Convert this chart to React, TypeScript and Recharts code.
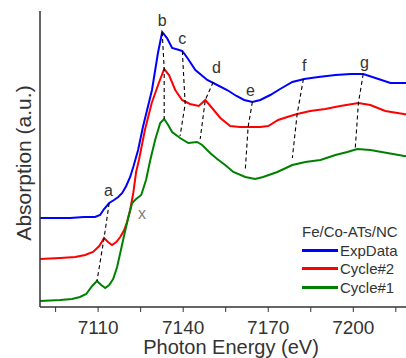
import React from 'react';
import {
  ComposedChart,
  Line,
  Scatter,
  XAxis,
  YAxis,
  Legend,
} from 'recharts';

// Fe K-edge XANES spectra, [energy (eV), normalised absorption + offset]
const expData: [number, number][] = [
  [7089.5, 0.89], [7100.1, 0.89], [7105.0, 0.9], [7108.9, 0.9], [7110.7, 0.92],
  [7112.1, 0.98], [7113.9, 1.04], [7115.6, 1.07], [7117.1, 1.1], [7118.5, 1.14],
  [7119.9, 1.21], [7121.3, 1.3], [7122.4, 1.4], [7124.1, 1.57], [7125.8, 1.8],
  [7129.0, 2.17], [7131.1, 2.54], [7132.6, 2.75], [7134.3, 2.69], [7136.1, 2.59],
  [7138.6, 2.57], [7139.7, 2.56], [7141.5, 2.49], [7144.3, 2.37], [7148.5, 2.27],
  [7152.0, 2.22], [7155.5, 2.17], [7158.8, 2.11], [7161.5, 2.07], [7164.4, 2.05],
  [7167.2, 2.07], [7170.7, 2.12], [7174.2, 2.18], [7178.5, 2.25], [7182.7, 2.28],
  [7187.7, 2.3], [7193.7, 2.32], [7199.0, 2.33], [7203.5, 2.33], [7207.8, 2.29],
  [7213.1, 2.24], [7220.0, 2.24],
];

const cycle2: [number, number][] = [
  [7089.5, 0.48], [7096.6, 0.49], [7101.9, 0.5], [7105.4, 0.52], [7108.2, 0.55],
  [7110.4, 0.61], [7112.1, 0.69], [7113.5, 0.65], [7114.9, 0.62], [7116.4, 0.65],
  [7117.8, 0.7], [7119.2, 0.77], [7120.2, 0.85], [7121.3, 0.97], [7122.4, 1.14],
  [7123.4, 1.35], [7124.4, 1.47], [7126.5, 1.77], [7128.9, 2.04], [7131.4, 2.24],
  [7133.3, 2.38], [7135.0, 2.32], [7137.2, 2.17], [7139.6, 2.07], [7142.4, 2.03],
  [7145.5, 2.01], [7147.8, 2.07], [7150.2, 1.99], [7153.1, 1.89], [7156.6, 1.81],
  [7160.0, 1.8], [7164.0, 1.8], [7167.2, 1.8], [7170.0, 1.81], [7173.5, 1.87],
  [7176.7, 1.9], [7180.2, 1.93], [7184.8, 1.96], [7190.1, 1.98], [7195.4, 2.01],
  [7201.8, 2.04], [7206.0, 2.02], [7211.3, 1.96], [7220.0, 1.92],
];

const cycle1: [number, number][] = [
  [7089.5, 0.06], [7096.6, 0.07], [7100.8, 0.08], [7103.6, 0.1], [7105.8, 0.13],
  [7107.9, 0.21], [7109.6, 0.26], [7111.1, 0.22], [7112.5, 0.19], [7113.9, 0.22],
  [7115.3, 0.28], [7116.7, 0.4], [7117.8, 0.54], [7119.2, 0.72], [7120.6, 0.89],
  [7122.0, 1.04], [7123.4, 1.08], [7125.2, 1.12], [7126.9, 1.27], [7128.4, 1.47],
  [7130.1, 1.67], [7131.9, 1.84], [7133.3, 1.88], [7134.7, 1.82], [7136.1, 1.75],
  [7138.9, 1.69], [7141.8, 1.64], [7144.9, 1.65], [7146.7, 1.62], [7149.5, 1.54],
  [7152.0, 1.48], [7154.8, 1.42], [7157.7, 1.35], [7161.9, 1.3], [7165.4, 1.28],
  [7168.2, 1.3], [7173.2, 1.35], [7178.5, 1.42], [7183.1, 1.45], [7188.4, 1.47],
  [7193.7, 1.52], [7197.9, 1.55], [7201.4, 1.58], [7206.0, 1.57], [7212.0, 1.54],
  [7220.0, 1.5],
];

// feature markers a-g: point on ExpData, Cycle#2, Cycle#1
const featureNames = ['a', 'b', 'c', 'd', 'e', 'f', 'g'];
const featureTraces: [number, number][][] = [
  [[7113.9, 1.04], [7112.1, 0.69], [7109.6, 0.26]],
  [[7132.6, 2.75], [7133.3, 2.38], [7133.3, 1.88]],
  [[7139.7, 2.56], [7140.7, 2.03], [7138.9, 1.71]],
  [[7150.6, 2.25], [7147.8, 2.07], [7146.0, 1.68]],
  [[7164.4, 2.05], [7162.9, 1.8], [7161.9, 1.37]],
  [[7182.4, 2.28], [7180.2, 1.93], [7178.5, 1.49]],
  [[7203.5, 2.33], [7201.8, 2.04], [7200.7, 1.59]],
];
const featureLabelPos: [number, number][] = [
  [7113.6, 1.17], [7132.6, 2.87], [7139.7, 2.69], [7151.7, 2.4],
  [7163.7, 2.17], [7182.7, 2.42], [7203.9, 2.45],
];
// shoulder on the Cycle#1 edge
const shoulderLabel = { name: 'x', e: 7125.5, v: 0.94 };

const energyTicks = [7095, 7110, 7125, 7140, 7155, 7170, 7185, 7200, 7215];
const majorTicks = [7110, 7140, 7170, 7200];

const series = [
  { name: 'ExpData', color: '#0000ff', points: expData },
  { name: 'Cycle#2', color: '#ff0000', points: cycle2 },
  { name: 'Cycle#1', color: '#008000', points: cycle1 },
];
const legendTitle = 'Fe/Co-ATs/NC';

const FONT = '"Liberation Sans", Arial, sans-serif';
const toRows = (pts: [number, number][]) => pts.map(([e, v]) => ({ e, v }));

const labelRows = [
  ...featureNames.map((name, i) => ({ name, e: featureLabelPos[i][0], v: featureLabelPos[i][1] })),
  shoulderLabel,
];

const EnergyTick = (props: any) => {
  const { x, y, payload } = props;
  if (!majorTicks.includes(payload.value)) return null;
  return (
    <text x={x} y={y} dy={20} textAnchor="middle" fontSize={19} fill="#333" fontFamily={FONT}>
      {payload.value}
    </text>
  );
};

const LetterMark = (props: any) => {
  const { cx, cy, payload } = props;
  const isShoulder = payload.name === 'x';
  return (
    <text
      x={cx}
      y={cy}
      textAnchor="middle"
      dominantBaseline="central"
      fontSize={16}
      fontFamily={FONT}
      fill={isShoulder ? '#808080' : '#333'}
    >
      {payload.name}
    </text>
  );
};

const XTitle = (props: any) => {
  const { viewBox } = props;
  return (
    <text
      x={viewBox.x + viewBox.width / 2 + 6}
      y={viewBox.y + 47}
      textAnchor="middle"
      fontSize={20}
      fill="#333"
      fontFamily={FONT}
    >
      Photon Energy (eV)
    </text>
  );
};

const YTitle = (props: any) => {
  const { viewBox } = props;
  const cx = viewBox.x + 23;
  const cy = viewBox.y + viewBox.height / 2 + 4;
  return (
    <text
      x={cx}
      y={cy}
      transform={`rotate(-90 ${cx} ${cy})`}
      textAnchor="middle"
      dominantBaseline="central"
      fontSize={21}
      fill="#333"
      fontFamily={FONT}
    >
      Absorption (a.u.)
    </text>
  );
};

const LegendBox = () => (
  <div style={{ fontFamily: FONT, fontSize: 15, color: '#333', lineHeight: '19px' }}>
    <div style={{ height: 19 }}>{legendTitle}</div>
    {series.map((s) => (
      <div key={s.name} style={{ display: 'flex', alignItems: 'center', height: 18.5 }}>
        <span style={{ display: 'inline-block', width: 36, height: 3, background: s.color, marginRight: 2 }} />
        <span>{s.name}</span>
      </div>
    ))}
  </div>
);

export default function App() {
  return (
    <div style={{ position: 'absolute', left: 0, top: 0, width: 420, height: 358, background: '#fff' }}>
      <ComposedChart width={420} height={358} margin={{ top: 11, right: 10, bottom: 0, left: 0 }}>
        <XAxis
          dataKey="e"
          type="number"
          domain={[7089.5, 7220]}
          allowDataOverflow
          ticks={energyTicks}
          interval={0}
          height={51}
          tickSize={5}
          tick={<EnergyTick />}
          tickLine={{ stroke: '#333' }}
          axisLine={{ stroke: '#333', strokeWidth: 1.5 }}
          label={<XTitle />}
        />
        <XAxis
          xAxisId="top"
          orientation="top"
          dataKey="e"
          type="number"
          domain={[7089.5, 7220]}
          height={0}
          tick={false}
          tickLine={false}
          axisLine={{ stroke: '#555', strokeWidth: 1.5 }}
        />
        <YAxis
          type="number"
          domain={[0, 2.96]}
          allowDataOverflow
          width={40}
          tick={false}
          tickLine={false}
          axisLine={{ stroke: '#333', strokeWidth: 1.5 }}
          label={<YTitle />}
        />
        <YAxis
          yAxisId="right"
          orientation="right"
          width={0}
          tick={false}
          tickLine={false}
          axisLine={{ stroke: '#333', strokeWidth: 1.5 }}
        />
        {series.map((s) => (
          <Line
            key={s.name}
            data={toRows(s.points)}
            dataKey="v"
            name={s.name}
            type="linear"
            stroke={s.color}
            strokeWidth={2}
            dot={false}
            isAnimationActive={false}
          />
        ))}
        {featureTraces.map((trace, i) => (
          <Line
            key={featureNames[i]}
            data={toRows(trace)}
            dataKey="v"
            name={`trace-${featureNames[i]}`}
            type="linear"
            stroke="#000"
            strokeWidth={1.1}
            strokeDasharray="4 3"
            dot={false}
            legendType="none"
            isAnimationActive={false}
          />
        ))}
        <Scatter
          data={labelRows}
          dataKey="v"
          shape={<LetterMark />}
          legendType="none"
          isAnimationActive={false}
        />
        <Legend
          layout="horizontal"
          verticalAlign="middle"
          align="center"
          content={<LegendBox />}
          wrapperStyle={{ position: 'absolute', left: 302, top: 222, width: 110 }}
        />
      </ComposedChart>
    </div>
  );
}
